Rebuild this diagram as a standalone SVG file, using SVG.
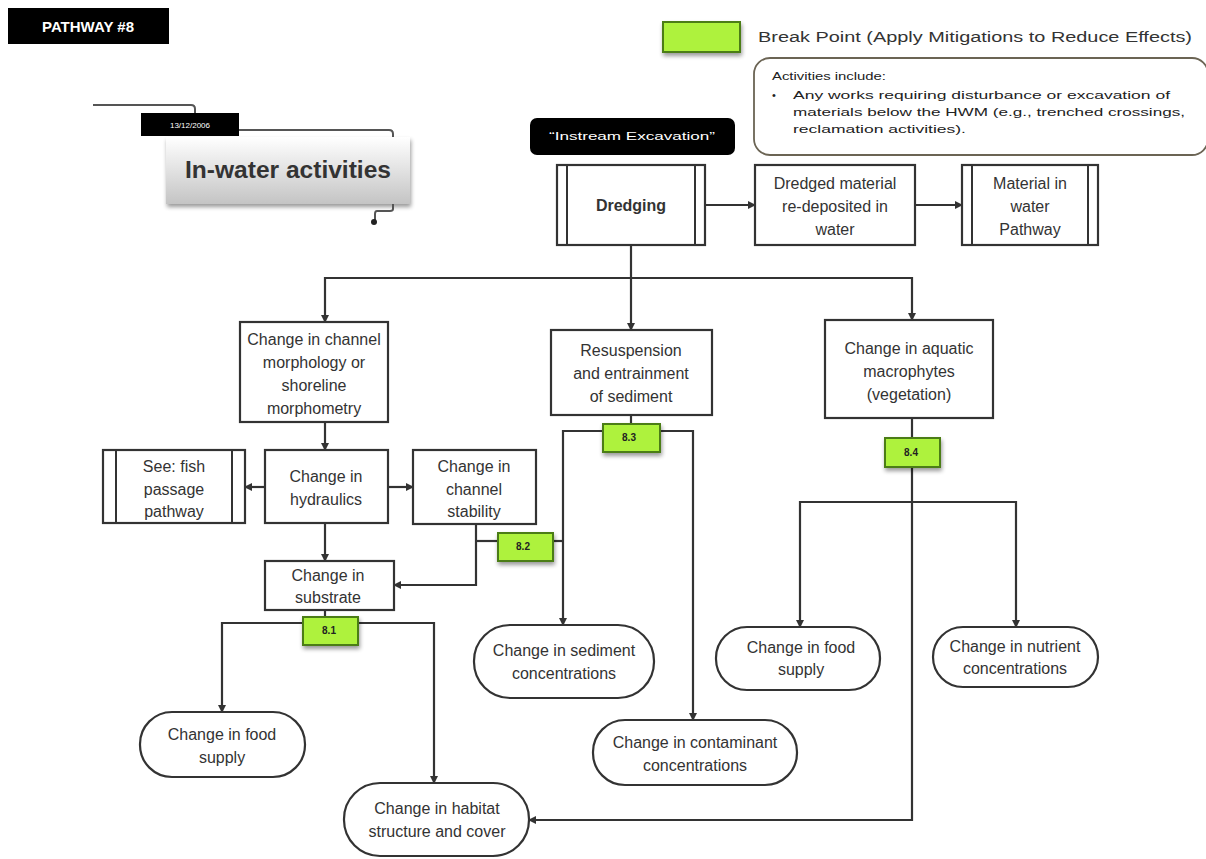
<svg xmlns="http://www.w3.org/2000/svg" width="1206" height="859" viewBox="0 0 1206 859">
<defs>
<marker id="arr" markerWidth="8" markerHeight="8" refX="7" refY="4" orient="auto" markerUnits="userSpaceOnUse">
<path d="M0,0 L8,4 L0,8 z" fill="#333"/>
</marker>
<linearGradient id="tg" x1="0" y1="0" x2="0" y2="1">
<stop offset="0" stop-color="#ffffff"/>
<stop offset="1" stop-color="#c4c4c4"/>
</linearGradient>
<filter id="sh" x="-20%" y="-20%" width="150%" height="160%">
<feGaussianBlur in="SourceAlpha" stdDeviation="2"/>
<feOffset dx="1" dy="3" result="o"/>
<feComponentTransfer><feFuncA type="linear" slope="0.4"/></feComponentTransfer>
<feMerge><feMergeNode/><feMergeNode in="SourceGraphic"/></feMerge>
</filter>
</defs>
<style>
.box{fill:#fff;stroke:#333;stroke-width:2.2}
.bar{stroke:#333;stroke-width:2}
.t{font-family:"Liberation Sans",Arial,sans-serif;font-size:16px;fill:#333;text-anchor:middle}
.c{fill:none;stroke:#333;stroke-width:2.2}
.bp{fill:#aef23c;stroke:#4b7d12;stroke-width:2}
.bpt{font-family:"Liberation Sans",Arial,sans-serif;font-size:10px;font-weight:bold;fill:#222;text-anchor:middle}
.sm{font-family:"Liberation Sans",Arial,sans-serif;font-size:11px;fill:#222}
</style>
<rect width="1206" height="859" fill="#fff"/>

<g id="pathway-label">
<rect x="8" y="8" width="161" height="36" fill="#000"/>
<text x="88" y="32" font-family="Liberation Sans,Arial,sans-serif" font-size="15" font-weight="bold" fill="#fff" text-anchor="middle">PATHWAY #8</text>
</g>

<g id="title">
<path d="M93,105 H191 Q195,105 195,109 V113" fill="none" stroke="#555" stroke-width="2"/>
<rect x="141" y="113" width="98" height="23" fill="#000"/>
<text x="190" y="128" font-family="Liberation Sans,Arial,sans-serif" font-size="8" fill="#fff" text-anchor="middle">13/12/2006</text>
<path d="M239,130 H389 Q393,130 393,134 V137" fill="none" stroke="#555" stroke-width="2"/>
<rect x="166" y="137" width="244" height="67" fill="url(#tg)" filter="url(#sh)"/>
<text x="288" y="178" font-family="Liberation Sans,Arial,sans-serif" font-size="23" font-weight="bold" fill="#333" text-anchor="middle" textLength="206" lengthAdjust="spacingAndGlyphs">In-water activities</text>
<path d="M393,204 V209 Q393,211 390,211 H377 Q375,211 375,214 V220" fill="none" stroke="#555" stroke-width="2"/>
<circle cx="374" cy="222" r="3" fill="#222"/>
</g>

<g id="legend">
<rect x="663" y="22" width="77" height="30" class="bp" filter="url(#sh)"/>
<text x="758" y="42" font-family="Liberation Sans,Arial,sans-serif" font-size="14" fill="#333" textLength="434" lengthAdjust="spacingAndGlyphs">Break Point (Apply Mitigations to Reduce Effects)</text>
</g>

<g id="activities-note">
<rect x="754" y="58" width="454" height="97" rx="16" fill="#fff" stroke="#6b6454" stroke-width="1.8"/>
<text x="772" y="80" class="sm" textLength="114" lengthAdjust="spacingAndGlyphs">Activities include:</text>
<text x="772" y="99" class="sm">•</text>
<text x="793" y="99" class="sm" textLength="377" lengthAdjust="spacingAndGlyphs">Any works requiring disturbance or excavation of</text>
<text x="793" y="116" class="sm" textLength="392" lengthAdjust="spacingAndGlyphs">materials below the HWM (e.g., trenched crossings,</text>
<text x="793" y="133" class="sm" textLength="173" lengthAdjust="spacingAndGlyphs">reclamation activities).</text>
</g>

<g id="instream-label">
<rect x="530" y="118" width="205" height="37" rx="7" fill="#000"/>
<text x="632" y="140" font-family="Liberation Sans,Arial,sans-serif" font-size="11" fill="#fff" text-anchor="middle" textLength="166" lengthAdjust="spacingAndGlyphs">“Instream Excavation”</text>
</g>

<g id="connectors">
<path class="c" d="M705,205 H755" marker-end="url(#arr)"/>
<path class="c" d="M915,205 H962" marker-end="url(#arr)"/>
<path class="c" d="M631,245 V330" marker-end="url(#arr)"/>
<path class="c" d="M631,278 H325 V322" marker-end="url(#arr)"/>
<path class="c" d="M631,278 H912 V320" marker-end="url(#arr)"/>
<path class="c" d="M325,422 V450" marker-end="url(#arr)"/>
<path class="c" d="M265,487 H245" marker-end="url(#arr)"/>
<path class="c" d="M388,487 H413" marker-end="url(#arr)"/>
<path class="c" d="M325,523 V561" marker-end="url(#arr)"/>
<path class="c" d="M476,524 V585 H394" marker-end="url(#arr)"/>
<path class="c" d="M476,541 H498"/>
<path class="c" d="M553,541 H563"/>
<path class="c" d="M631,415 V425"/>
<path class="c" d="M603,431 H563 V625" marker-end="url(#arr)"/>
<path class="c" d="M660,431 H693 V720" marker-end="url(#arr)"/>
<path class="c" d="M912,418 V438"/>
<path class="c" d="M912,467 V820 H529" marker-end="url(#arr)"/>
<path class="c" d="M912,502 H800 V627" marker-end="url(#arr)"/>
<path class="c" d="M912,502 H1016 V627" marker-end="url(#arr)"/>
<path class="c" d="M325,610 V617"/>
<path class="c" d="M303,623 H222 V712" marker-end="url(#arr)"/>
<path class="c" d="M358,623 H434 V783" marker-end="url(#arr)"/>
</g>

<g id="dredging">
<rect x="557" y="165" width="148" height="80" class="box"/>
<line x1="567" y1="165" x2="567" y2="245" class="bar"/>
<line x1="695" y1="165" x2="695" y2="245" class="bar"/>
<text x="631" y="211" class="t" font-weight="bold">Dredging</text>
</g>

<g id="dredged-material">
<rect x="755" y="165" width="160" height="80" class="box"/>
<text class="t"><tspan x="835" y="189">Dredged material</tspan><tspan x="835" y="212">re-deposited in</tspan><tspan x="835" y="235">water</tspan></text>
</g>

<g id="material-in-water">
<rect x="962" y="165" width="136" height="80" class="box"/>
<line x1="972" y1="165" x2="972" y2="245" class="bar"/>
<line x1="1088" y1="165" x2="1088" y2="245" class="bar"/>
<text class="t"><tspan x="1030" y="189">Material in</tspan><tspan x="1030" y="212">water</tspan><tspan x="1030" y="235">Pathway</tspan></text>
</g>

<g id="channel-morphology">
<rect x="240" y="322" width="148" height="100" class="box"/>
<text class="t"><tspan x="314" y="345">Change in channel</tspan><tspan x="314" y="368">morphology or</tspan><tspan x="314" y="391">shoreline</tspan><tspan x="314" y="414">morphometry</tspan></text>
</g>

<g id="resuspension">
<rect x="551" y="330" width="161" height="85" class="box"/>
<text class="t"><tspan x="631" y="356">Resuspension</tspan><tspan x="631" y="379">and entrainment</tspan><tspan x="631" y="402">of sediment</tspan></text>
</g>

<g id="aquatic-macrophytes">
<rect x="825" y="320" width="168" height="98" class="box"/>
<text class="t"><tspan x="909" y="354">Change in aquatic</tspan><tspan x="909" y="377">macrophytes</tspan><tspan x="909" y="400">(vegetation)</tspan></text>
</g>

<g id="fish-passage">
<rect x="103" y="450" width="142" height="73" class="box"/>
<line x1="116" y1="450" x2="116" y2="523" class="bar"/>
<line x1="232" y1="450" x2="232" y2="523" class="bar"/>
<text class="t"><tspan x="174" y="472">See: fish</tspan><tspan x="174" y="495">passage</tspan><tspan x="174" y="517">pathway</tspan></text>
</g>

<g id="hydraulics">
<rect x="265" y="450" width="123" height="73" class="box"/>
<text class="t"><tspan x="326" y="482">Change in</tspan><tspan x="326" y="505">hydraulics</tspan></text>
</g>

<g id="channel-stability">
<rect x="413" y="450" width="123" height="74" class="box"/>
<text class="t"><tspan x="474" y="472">Change in</tspan><tspan x="474" y="495">channel</tspan><tspan x="474" y="517">stability</tspan></text>
</g>

<g id="substrate">
<rect x="265" y="561" width="129" height="49" class="box"/>
<text class="t"><tspan x="328" y="581">Change in</tspan><tspan x="328" y="603">substrate</tspan></text>
</g>

<g id="bp-8-1">
<rect x="303" y="617" width="55" height="28" class="bp" filter="url(#sh)"/>
<text x="329" y="634" class="bpt">8.1</text>
</g>
<g id="bp-8-2">
<rect x="498" y="533" width="55" height="28" class="bp" filter="url(#sh)"/>
<text x="523" y="550" class="bpt">8.2</text>
</g>
<g id="bp-8-3">
<rect x="603" y="424" width="57" height="28" class="bp" filter="url(#sh)"/>
<text x="629" y="441" class="bpt">8.3</text>
</g>
<g id="bp-8-4">
<rect x="885" y="438" width="55" height="29" class="bp" filter="url(#sh)"/>
<text x="911" y="456" class="bpt">8.4</text>
</g>

<g id="sediment-conc">
<rect x="474" y="625" width="180" height="73" rx="36" class="box"/>
<text class="t"><tspan x="564" y="656">Change in sediment</tspan><tspan x="564" y="679">concentrations</tspan></text>
</g>

<g id="contaminant-conc">
<rect x="593" y="720" width="204" height="65" rx="32" class="box"/>
<text class="t"><tspan x="695" y="748">Change in contaminant</tspan><tspan x="695" y="771">concentrations</tspan></text>
</g>

<g id="food-supply-right">
<rect x="716" y="627" width="164" height="63" rx="31" class="box"/>
<text class="t"><tspan x="801" y="653">Change in food</tspan><tspan x="801" y="675">supply</tspan></text>
</g>

<g id="nutrient-conc">
<rect x="933" y="627" width="165" height="60" rx="30" class="box"/>
<text class="t"><tspan x="1015" y="652">Change in nutrient</tspan><tspan x="1015" y="674">concentrations</tspan></text>
</g>

<g id="food-supply-left">
<rect x="140" y="712" width="165" height="65" rx="32" class="box"/>
<text class="t"><tspan x="222" y="740">Change in food</tspan><tspan x="222" y="763">supply</tspan></text>
</g>

<g id="habitat">
<rect x="344" y="783" width="185" height="73" rx="36" class="box"/>
<text class="t"><tspan x="437" y="814">Change in habitat</tspan><tspan x="437" y="837">structure and cover</tspan></text>
</g>
</svg>
